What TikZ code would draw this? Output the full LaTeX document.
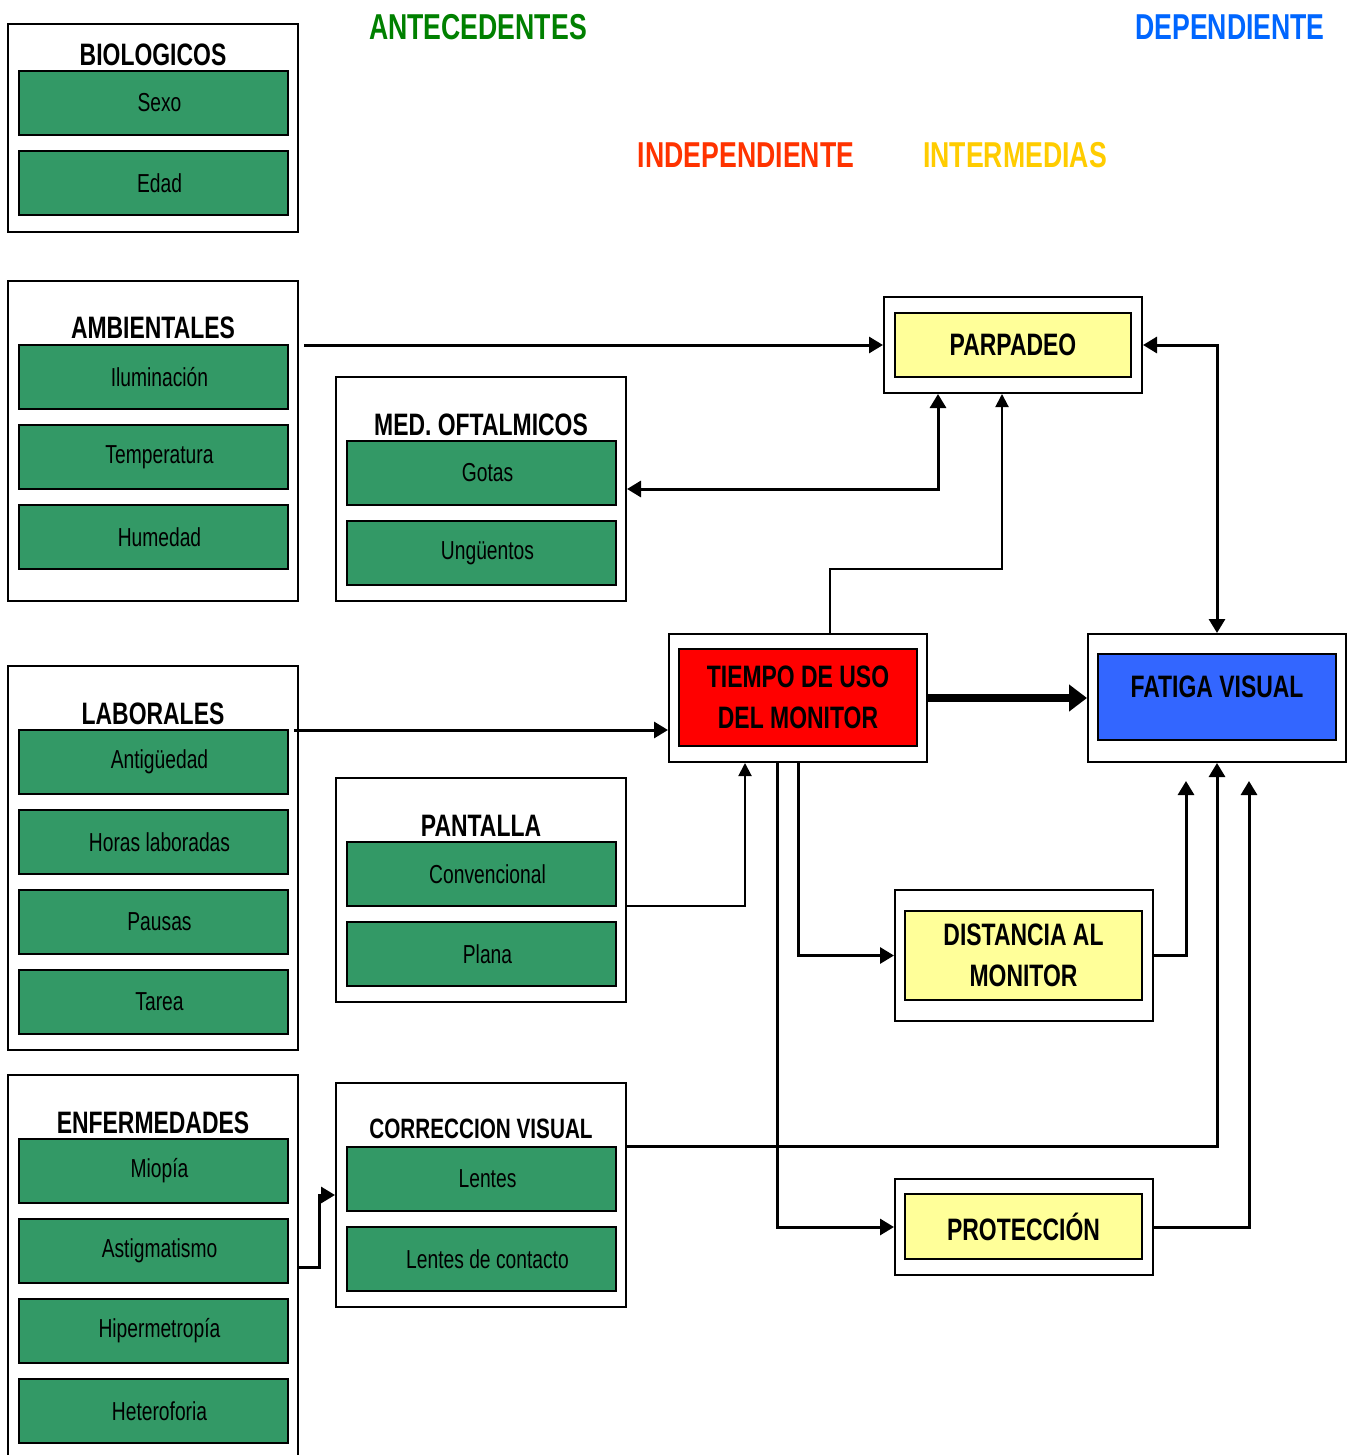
\documentclass[tikz,border=0pt]{standalone}
\usepackage{fontspec}
\setmainfont[FakeStretch=0.74]{Liberation Sans}
\usetikzlibrary{arrows.meta,positioning,calc}
\definecolor{ItemGreen}{HTML}{339966}
\definecolor{PaleYellow}{HTML}{FFFF99}
\definecolor{BoxRed}{HTML}{FF0000}
\definecolor{BoxBlue}{HTML}{3366FF}
\definecolor{HeadGreen}{HTML}{008000}
\definecolor{HeadRed}{HTML}{FF3300}
\definecolor{HeadYellow}{HTML}{FFCC00}
\definecolor{HeadBlue}{HTML}{0066FF}

\begin{document}
\begin{tikzpicture}[x=1pt,y=-1pt,
  grupo/.style={draw=black,line width=2pt,fill=white,inner sep=0pt},
  item/.style={draw=black,line width=1.8pt,fill=ItemGreen,inner sep=0pt,
    minimum width=269pt,minimum height=64pt,font=\fontsize{26}{28}\selectfont},
  titulo/.style={inner sep=0pt,font=\bfseries\fontsize{31}{33}\selectfont},
  marco/.style={draw=black,line width=2pt,fill=white,inner sep=0pt,minimum width=258pt},
  caja/.style={draw=black,line width=1.8pt,inner sep=0pt,align=center,
    font=\bfseries\fontsize{31}{41}\selectfont},
  cabecera/.style={inner sep=0pt,font=\bfseries\fontsize{36}{38}\selectfont},
  flecha/.style={line width=3pt,-{Triangle[length=14pt,width=16pt]}},
  doble/.style={line width=3pt,{Triangle[length=14pt,width=16pt]}-{Triangle[length=14pt,width=16pt]}},
  fina/.style={line width=2pt,-{Triangle[length=13pt,width=13pt]}}]
  \useasboundingbox (0,0) rectangle (1353,1455);

  % cabeceras
  \node[cabecera,text=HeadGreen] (hAnte) at (478,27) {ANTECEDENTES};
  \node[cabecera,text=HeadBlue] (hDep) at (1230,27) {DEPENDIENTE};
  \node[cabecera,text=HeadRed] (hInd) at (746,155) {INDEPENDIENTE};
  \node[cabecera,text=HeadYellow] (hInt) at (1015,155) {INTERMEDIAS};

  % antecedentes
  \node[grupo,minimum width=290pt,minimum height=208pt] (bio) at (153,128) {};
  \node[titulo] (bioT) at (153,55) {BIOLOGICOS};
  \foreach \i/\y/\txt in {1/103/Sexo,2/183/Edad} {
    \node[item] (bio\i) at (153.5,\y) {\hspace*{12pt}\txt};
  }

  \node[grupo,minimum width=290pt,minimum height=320pt] (amb) at (153,441) {};
  \node[titulo] (ambT) at (153,328) {AMBIENTALES};
  \foreach \i/\y/\txt in {1/377/Iluminación,2/457/Temperatura,3/537/Humedad} {
    \node[item] (amb\i) at (153.5,\y) {\hspace*{12pt}\txt};
  }

  \node[grupo,minimum width=290pt,minimum height=384pt] (lab) at (153,858) {};
  \node[titulo] (labT) at (153,714) {LABORALES};
  \foreach \i/\y/\txt in {1/762/Antigüedad,2/842/Horas laboradas,3/922/Pausas,4/1002/Tarea} {
    \node[item] (lab\i) at (153.5,\y) {\hspace*{12pt}\txt};
  }

  \node[grupo,minimum width=290pt,minimum height=384pt] (enf) at (153,1267) {};
  \node[titulo] (enfT) at (153,1123) {ENFERMEDADES};
  \foreach \i/\y/\txt in {1/1171/Miopía,2/1251/Astigmatismo,3/1331/Hipermetropía,4/1411/Heteroforia} {
    \node[item] (enf\i) at (153.5,\y) {\hspace*{12pt}\txt};
  }

  \node[grupo,minimum width=290pt,minimum height=224pt] (med) at (481,489) {};
  \node[titulo] (medT) at (481,425) {MED. OFTALMICOS};
  \foreach \i/\y/\txt in {1/473/Gotas,2/553/Ungüentos} {
    \node[item] (med\i) at (481.5,\y) {\hspace*{12pt}\txt};
  }

  \node[grupo,minimum width=290pt,minimum height=224pt] (pan) at (481,890) {};
  \node[titulo] (panT) at (481,826) {PANTALLA};
  \foreach \i/\y/\txt in {1/874/Convencional,2/954/Plana} {
    \node[item] (pan\i) at (481.5,\y) {\hspace*{12pt}\txt};
  }

  \node[grupo,minimum width=290pt,minimum height=224pt] (cor) at (481,1195) {};
  \node[titulo,font=\bfseries\fontsize{28}{30}\selectfont] (corT) at (481,1129) {CORRECCION VISUAL};
  \foreach \i/\y/\txt in {1/1179/Lentes,2/1259/Lentes de contacto} {
    \node[item] (cor\i) at (481.5,\y) {\hspace*{12pt}\txt};
  }

  % variables
  \node[marco,minimum height=96pt] (parO) at (1013,345) {};
  \node[caja,fill=PaleYellow,minimum width=236pt,minimum height=64pt] (par) at (1013,345) {PARPADEO};

  \node[marco,minimum height=128pt] (tieO) at (798,698) {};
  \node[caja,fill=BoxRed,minimum width=238pt,minimum height=97pt] (tie) at (798,697.5) {TIEMPO DE USO\\DEL MONITOR};

  \node[marco,minimum height=128pt] (fatO) at (1217,698) {};
  \node[caja,fill=BoxBlue,minimum width=238pt,minimum height=86pt,text depth=20pt] (fat) at (1217,697) {FATIGA VISUAL};

  \node[marco,minimum height=131pt] (disO) at (1024,955.5) {};
  \node[caja,fill=PaleYellow,minimum width=237pt,minimum height=89pt] (dis) at (1023.5,955.5) {DISTANCIA AL\\MONITOR};

  \node[marco,minimum height=96pt] (proO) at (1024,1227) {};
  \node[caja,fill=PaleYellow,minimum width=237pt,minimum height=65pt] (pro) at (1023.5,1226.5) {PROTECCIÓN};

  % conexiones
  \coordinate (tieL) at ([yshift=-32pt]tieO.west);
  \draw[flecha] ([xshift=5pt]amb.east |- parO.west) -- (parO.west);
  \draw[doble] (med.east) -| ([xshift=-75pt]parO.south);
  \draw[fina] ([xshift=32pt]tieO.north) -- ++(0,-64) -| ([xshift=-11pt]parO.south);
  \draw[doble] (parO.east) -| (fatO.north);
  \draw[line width=8pt,-{Triangle[length=18pt,width=26pt]}] (tieO.east) -- (fatO.west);
  \draw[flecha] ([xshift=-5pt]lab.east |- tieL) -- (tieL);
  \draw[fina] ([yshift=-16pt]pan.east) -| ([xshift=-53pt]tieO.south);
  \draw[flecha] (tieO.south) |- (disO.west);
  \draw[flecha] ([xshift=-21pt]tieO.south) |- (proO.west);
  \draw[flecha] (disO.east) -| ([xshift=-31pt,yshift=-18pt]fatO.south);
  \draw[flecha] ([yshift=49pt]cor.east) -| (fatO.south);
  \draw[flecha] (proO.east) -| ([xshift=32pt,yshift=-18pt]fatO.south);
  \draw[flecha] (enf.east) -- ++(20,0) |- (cor.west);
\end{tikzpicture}
\end{document}
